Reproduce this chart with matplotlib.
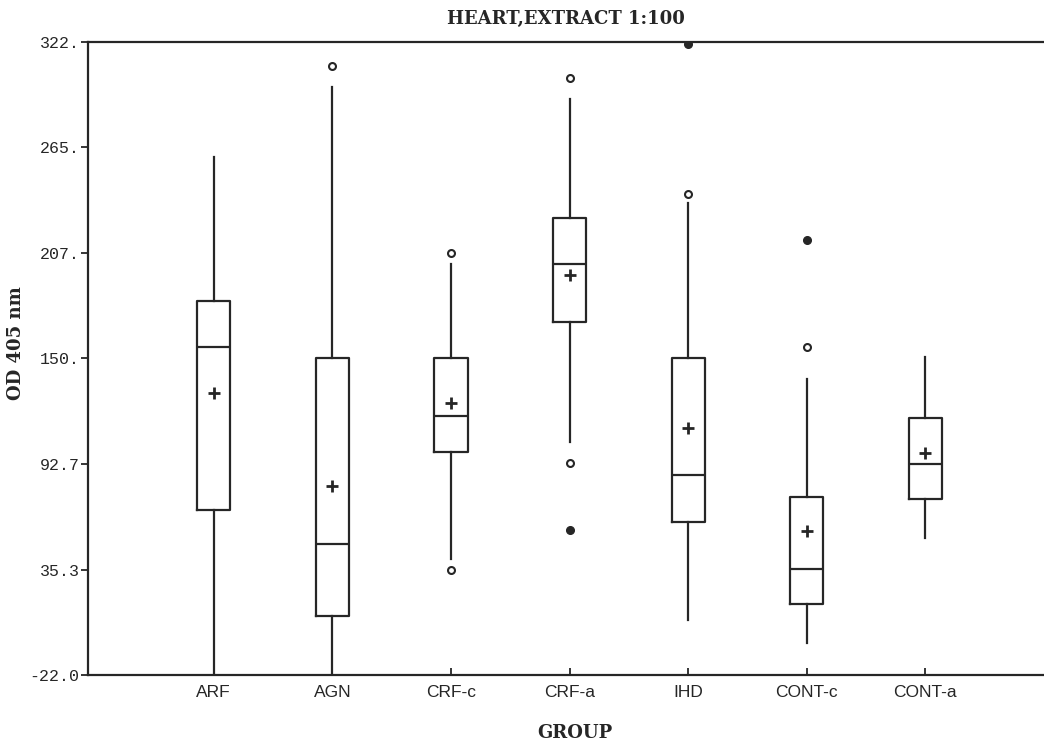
import matplotlib.pyplot as plt

# values (OD 405 nm)
groups = ['ARF', 'AGN', 'CRF-c', 'CRF-a', 'IHD', 'CONT-c', 'CONT-a']
whis_hi = [259.5, 297.8, 201.6, 290.9, 234.4, 138.7, 150.8]
q3 = [181.3, 150.1, 150.1, 226.4, 150.1, 74.6, 117.7]
medians = [156.3, 49.0, 118.8, 201.6, 86.7, 35.7, 92.9]
means = [131.3, 80.8, 125.7, 195.2, 112.4, 56.3, 98.7]
q1 = [67.7, 10.1, 99.3, 169.6, 61.1, 16.5, 73.7]
whis_lo = [-22.0, -22.0, 41.0, 104.4, 7.8, -4.4, 52.5]
# open circles (outside) and filled dots (far outside)
out_open = [[], [308.8], [207.3, 35.2], [302.4, 93.2], [239.4], [156.3], []]
out_far = [[], [], [], [57.0], [320.7], [214.2], []]

yticks = [322.0, 264.67, 207.33, 150.0, 92.67, 35.33, -22.0]
ytick_labels = ['322.', '265.', '207.', '150.', '92.7', '35.3', '-22.0']

ink = '#262626'
label_font = dict(fontfamily='DejaVu Serif', fontweight='bold', fontsize=13, color=ink)

stats = []
for i in range(len(groups)):
    stats.append({'label': groups[i], 'whishi': whis_hi[i], 'q3': q3[i],
                  'med': medians[i], 'mean': means[i], 'q1': q1[i],
                  'whislo': whis_lo[i], 'fliers': out_open[i]})

fig = plt.figure(figsize=(10.44, 7.43), dpi=100)
ax = fig.add_axes([0.0843, 0.0915, 0.9157, 0.852])
pos = list(range(1, len(groups) + 1))
ax.bxp(stats, positions=pos, widths=0.28, showmeans=True, showcaps=False,
       boxprops=dict(color=ink, linewidth=1.6),
       whiskerprops=dict(color=ink, linewidth=1.6),
       medianprops=dict(color=ink, linewidth=1.6),
       meanprops=dict(marker='+', markeredgecolor=ink, markersize=9, markeredgewidth=2),
       flierprops=dict(marker='o', markerfacecolor='white', markeredgecolor=ink,
                       markersize=5, markeredgewidth=1.5))
for i in range(len(groups)):
    if out_far[i]:
        ax.plot([pos[i]] * len(out_far[i]), out_far[i], 'o', color=ink, markersize=5.5)

ax.set_xlim(-0.06, 8.0)
ax.set_ylim(-22.0, 322.0)
ax.set_yticks(yticks)
ax.set_yticklabels(ytick_labels, fontfamily='Liberation Mono', fontsize=12)
ax.set_xticks(pos)
ax.set_xticklabels(groups, fontfamily='Liberation Sans', fontsize=12.5)
ax.tick_params(axis='y', direction='out', length=5, width=1.3, color=ink, pad=1, labelcolor=ink)
ax.tick_params(axis='x', direction='in', length=5, width=1.3, color=ink, pad=7, labelcolor=ink)

for s in ['left', 'bottom', 'top']:
    ax.spines[s].set_color(ink)
    ax.spines[s].set_linewidth(1.6)
ax.spines['right'].set_visible(False)

ax.set_title('HEART,EXTRACT 1:100', pad=13, **label_font)
ax.set_xlabel('GROUP', **label_font)
ax.set_ylabel('OD 405 nm', **label_font)
ax.xaxis.set_label_coords(0.509, -0.078)
ax.yaxis.set_label_coords(-0.066, 0.524)

fig.savefig('out.png', dpi=100)
